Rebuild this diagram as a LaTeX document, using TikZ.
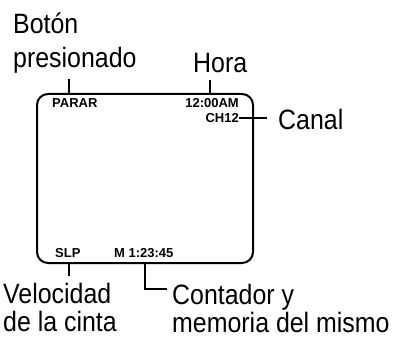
\documentclass[tikz,border=0pt]{standalone}
\usepackage{fontspec}
\setmainfont{Liberation Sans}
\newfontfamily\tallfont[FakeStretch=0.89]{Liberation Sans}
\usetikzlibrary{positioning}
\tikzstyle{Label} = [
inner sep=0pt, align=left,
font=\tallfont\fontsize{28}{34}\selectfont]
\tikzstyle{Small} = [
inner sep=0pt,
font=\fontsize{13}{13}\selectfont\bfseries]
\tikzstyle{Screen} = [
draw, line width=2pt, rounded corners=11pt, inner sep=0pt,
minimum width=216pt, minimum height=169pt]
\tikzstyle{Tick} = [line width=1.5pt]

\begin{document}
\begin{tikzpicture}[x=1pt, y=-1pt]
    \useasboundingbox (0,0) rectangle (402,345);
    \node [Screen] (7) at (145,178.5) {};
    \node [Small, anchor=base west] (6) at (52,107) {PARAR};
    \node [Small, anchor=base east] (8) at (239,107) {12:00AM};
    \node [Small, below left=6pt and 0pt of 8.south east] (9) {CH12};
    \node [Small, anchor=base west] (11) at (55,257) {SLP};
    \node [Small, anchor=base west] (12) at (114,257) {M 1:23:45};
    % base = last line
    \node [Label, anchor=base west] (1) at (13,68) {Botón\\presionado};
    \node [Label, anchor=base west] (2) at (193,73) {Hora};
    \node [Label, anchor=west] (10) at (278,119) {Canal};
    \node [Label, anchor=base west, font=\tallfont\fontsize{28}{28}\selectfont] (3) at (3,331) {Velocidad\\de la cinta};
    \node [Label, anchor=base west, font=\tallfont\fontsize{28}{28}\selectfont] (13) at (172,332) {Contador y\\memoria del mismo};
    \coordinate (c1) at (69,79);
    \coordinate (c2) at (210,80);
    \coordinate (c3) at (69,276);
    \coordinate (c4) at (145,289);
    \coordinate (c5) at (167,289);
    \draw [Tick] (c1) -- (c1 |- 7.north);
    \draw [Tick] (c2) -- (c2 |- 7.north);
    \draw [Tick, shorten >=11pt] (9.east) -- (9.east -| 10.west);
    \draw [Tick] (7.south -| c3) -- (c3);
    \draw [Tick] (7.south -| c4) -- (c4) -- (c5);
\end{tikzpicture}
\end{document}
